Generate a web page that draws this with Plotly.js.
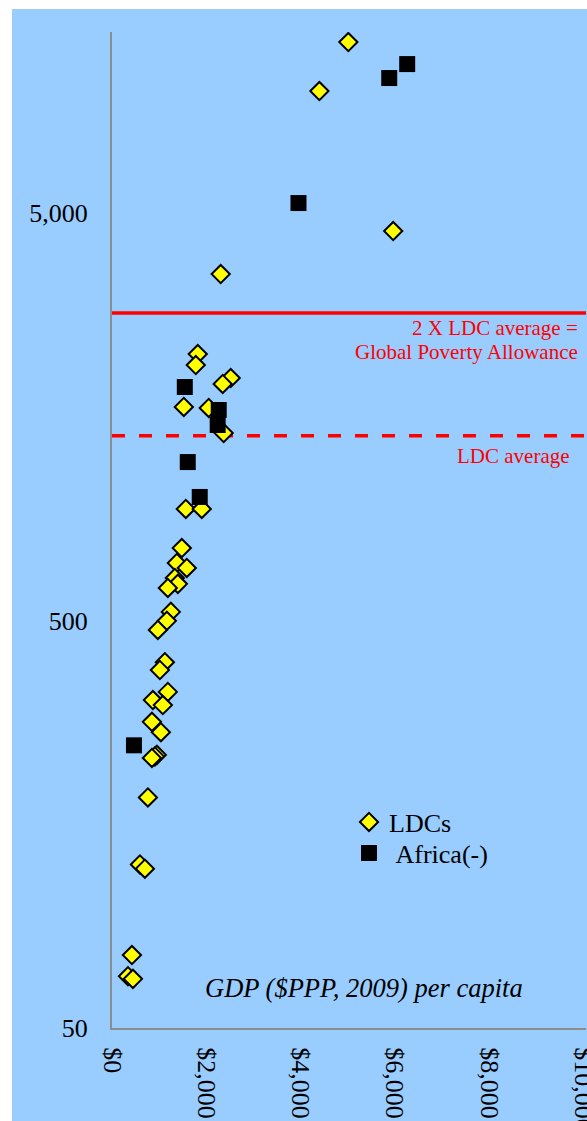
<!DOCTYPE html>
<html>
<head>
<meta charset="utf-8">
<script src="https://cdn.plot.ly/plotly-3.0.1.min.js"></script>
<style>
  html, body { margin: 0; padding: 0; background: #ffffff; overflow: hidden; }
  #chart { position: absolute; left: 12px; top: 9px; width: 600px; height: 1112px; }
</style>
</head>
<body>
<div id="chart"></div>
<script>
// GDP per capita ($PPP, 2009) and value for least developed countries
const ldcGdp = [5016, 4402, 5968, 2307, 1820, 1778, 2519, 2349, 1524, 2053,
                2370, 1566, 1905, 1481, 1376, 1587, 1333, 1397, 1185, 1249,
                1164, 973, 1122, 1016, 1185, 868, 1079, 847, 1037, 952,
                910, 847, 762, 593, 698, 423, 339, 444];
const ldcValue = [13140, 9960, 4515, 3542, 2254, 2118, 1968, 1903, 1671, 1662,
                  1442, 939, 939, 753, 692, 673, 636, 615, 601, 525,
                  499, 474, 395, 378, 334, 319, 310, 282, 266, 234,
                  232, 230, 184, 126, 123, 75.5, 67, 66];

// African countries (excluding LDCs)
const africaGdp = [6265, 5884, 3958, 1545, 2265, 2243, 1608, 1862, 466];
const africaValue = [11600, 10720, 5290, 1871, 1643, 1509, 1224, 1005, 247];

// Reference levels
const ldcAverage = 1420;
const povertyAllowance = 2 * ldcAverage;

const yTicks = [50, 500, 5000];
const xTicks = [0, 2000, 4000, 6000, 8000, 10000];
const xTickText = ["$0", "$2,000", "$4,000", "$6,000", "$8,000", "$10,000"];

const serif = "Liberation Serif, Times New Roman, serif";

const traces = [
  {
    x: ldcGdp, y: ldcValue, type: "scatter", mode: "markers", name: "LDCs",
    legend: "legend",
    marker: { symbol: "diamond", size: 14, color: "#ffff00",
              line: { color: "#000000", width: 2 } }
  },
  {
    x: africaGdp, y: africaValue, type: "scatter", mode: "markers",
    name: "\u00a0Africa(-)", legend: "legend2",
    marker: { symbol: "square", size: 16, color: "#000000",
              line: { color: "#000000", width: 0 } }
  }
];

const legendFont = { family: serif, size: 26, color: "#000000" };

const layout = {
  width: 600, height: 1112,
  margin: { l: 100, r: 26, t: 23, b: 93 },
  paper_bgcolor: "#99ccff",
  plot_bgcolor: "#99ccff",
  font: { family: serif, size: 26, color: "#000000" },
  showlegend: true,
  legend: {
    x: 0.5, y: 0.2068, xanchor: "left", yanchor: "middle",
    bgcolor: "rgba(0,0,0,0)", font: legendFont
  },
  legend2: {
    x: 0.5, y: 0.1757, xanchor: "left", yanchor: "middle",
    bgcolor: "rgba(0,0,0,0)", font: legendFont
  },
  xaxis: {
    range: [0, 10060], showgrid: false, zeroline: false,
    showline: true, linecolor: "#8c8c8c", linewidth: 2,
    tickmode: "array", tickvals: xTicks, ticktext: xTickText,
    tickangle: 90, ticks: "", ticklabelstandoff: 12, ticklabeloverflow: "allow",
    tickfont: { family: serif, size: 26, color: "#000000" }
  },
  yaxis: {
    type: "log", range: [Math.log10(50), 4.1432], showgrid: false, zeroline: false,
    showline: true, linecolor: "#8c8c8c", linewidth: 2,
    tickvals: yTicks, tickformat: ",", ticks: "", ticklabelstandoff: 17,
    tickfont: { family: serif, size: 26, color: "#000000" }
  },
  shapes: [
    { type: "line", xref: "paper", x0: 0, x1: 1, yref: "y",
      y0: povertyAllowance, y1: povertyAllowance, layer: "below",
      line: { color: "#ff0000", width: 3.5 } },
    { type: "line", xref: "paper", x0: 0, x1: 1, yref: "y",
      y0: ldcAverage, y1: ldcAverage, layer: "below",
      line: { color: "#ff0000", width: 3.5, dash: "13px,14px" } }
  ],
  annotations: [
    { xref: "paper", yref: "paper", x: 0.9873, y: 0.7033, xanchor: "right", yanchor: "middle",
      showarrow: false, text: "2 X LDC average =",
      font: { family: serif, size: 21, color: "#ff0000" } },
    { xref: "paper", yref: "paper", x: 0.9873, y: 0.6792, xanchor: "right", yanchor: "middle",
      showarrow: false, text: "Global Poverty Allowance",
      font: { family: serif, size: 21, color: "#ff0000" } },
    { xref: "paper", yref: "paper", x: 0.9705, y: 0.5743, xanchor: "right", yanchor: "middle",
      showarrow: false, text: "LDC average",
      font: { family: serif, size: 21, color: "#ff0000" } },
    { xref: "paper", yref: "paper", x: 0.5316, y: 0.0402, xanchor: "center", yanchor: "middle",
      showarrow: false, text: "<i>GDP ($PPP, 2009) per capita</i>",
      font: { family: serif, size: 26.5, color: "#000000" } }
  ]
};

Plotly.newPlot("chart", traces, layout, { displayModeBar: false, staticPlot: true });
</script>
</body>
</html>
